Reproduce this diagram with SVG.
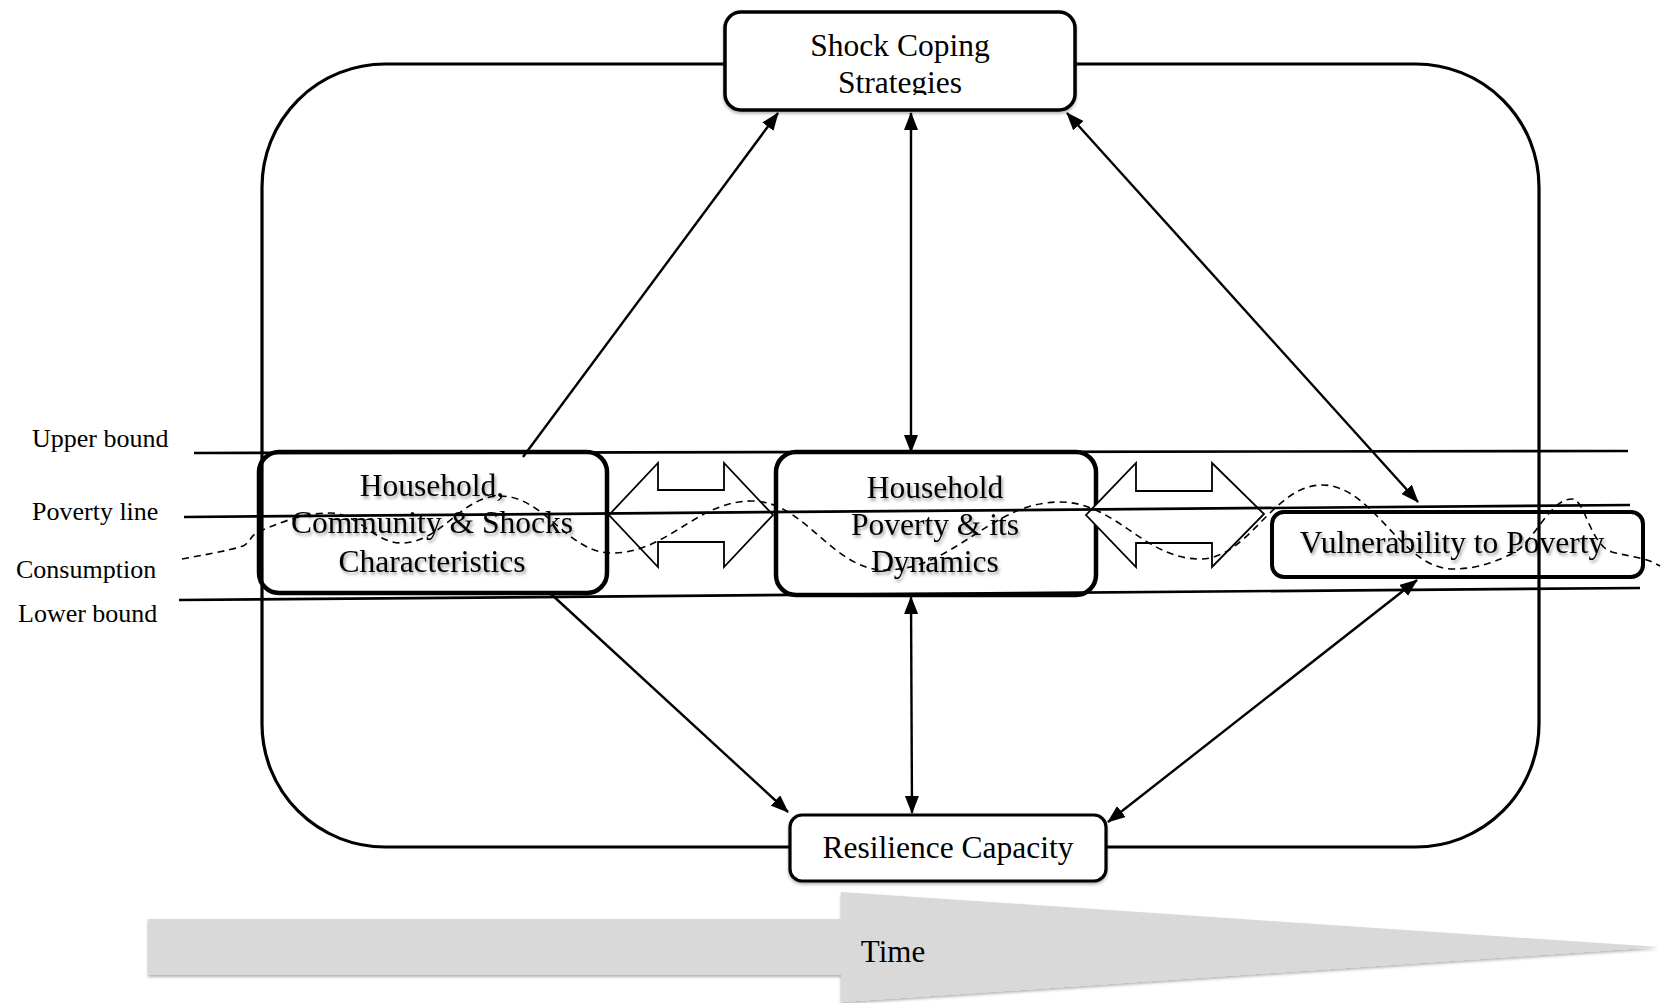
<svg xmlns="http://www.w3.org/2000/svg" width="1661" height="1003" viewBox="0 0 1661 1003">
<style>
.t{font-family:"Liberation Serif","Times New Roman",serif;font-size:31.5px;fill:#000;text-anchor:middle}
.lbl{font-family:"Liberation Serif","Times New Roman",serif;font-size:26px;fill:#000}
.box{stroke:#000;stroke-width:4.5;fill:none}
.bound{stroke:#000;stroke-width:2.7;fill:none}
.conn{stroke:#000;stroke-width:2.4;fill:none}
.dbl{fill:#fff;stroke:#000;stroke-width:1.8;stroke-linejoin:miter}
</style>
<defs>
<marker id="ah" viewBox="0 0 18 14" refX="17" refY="7" markerWidth="18" markerHeight="14" markerUnits="userSpaceOnUse" orient="auto-start-reverse">
<path d="M0,0 L18,7 L0,14 z" fill="#000"/>
</marker>
<filter id="tsh" x="-10%" y="-30%" width="120%" height="160%">
<feDropShadow dx="1.5" dy="2.5" stdDeviation="1.5" flood-color="#000" flood-opacity="0.4"/>
</filter>
<filter id="bsh" x="-5%" y="-10%" width="110%" height="125%">
<feDropShadow dx="0" dy="2" stdDeviation="1.5" flood-color="#000" flood-opacity="0.3"/>
</filter>
<clipPath id="clipShock"><rect x="725" y="12" width="350" height="83"/></clipPath>
</defs>

<g id="frame">
<rect x="262" y="64" width="1277" height="783" rx="123" ry="123" fill="none" stroke="#000" stroke-width="3.2"/>
</g>

<g id="time-arrow">
<polygon points="148,919 841,919 841,892 1659,947 841,1002 841,975 148,975" fill="#d9d9d9" filter="url(#bsh)"/>
<text x="893" y="962" class="t" style="font-size:31px">Time</text>
</g>

<g id="node-shock">
<rect x="725" y="12" width="350" height="98" rx="16" ry="16" fill="#fff" stroke="#000" stroke-width="3.5" filter="url(#bsh)"/>
<g clip-path="url(#clipShock)">
<text x="900" y="56" class="t">Shock Coping</text>
<text x="900" y="93" class="t">Strategies</text>
</g>
</g>

<g id="node-resilience">
<rect x="790" y="815" width="316" height="66" rx="12" ry="12" fill="#fff" stroke="#000" stroke-width="3.2" filter="url(#bsh)"/>
<text x="948" y="858" class="t">Resilience Capacity</text>
</g>

<g id="node-hcs">
<rect x="259" y="452" width="348" height="141" rx="20" ry="20" class="box"/>
</g>
<g id="node-poverty">
<rect x="776" y="452" width="320" height="143" rx="20" ry="20" class="box"/>
</g>
<g id="node-vulnerability">
<rect x="1272" y="512" width="371" height="65" rx="12" ry="12" class="box" style="stroke-width:4"/>
</g>

<g id="double-arrows">
<polygon class="dbl" points="609,515 658,463 658,490 724,490 724,463 773,515 724,567 724,542 658,542 658,567"/>
<polygon class="dbl" points="1086,515 1136,463 1136,491 1212,491 1212,463 1264,514 1212,567 1212,543 1136,543 1136,567"/>
</g>

<g id="bounds">
<line class="bound" x1="194" y1="453" x2="1628" y2="451"/>
<line class="bound" x1="184" y1="517" x2="1630" y2="505"/>
<line class="bound" x1="179" y1="600" x2="1640" y2="588"/>
<path d="M182,559 C215,553 235,549 243,546 C250,543 250,536 258,532 C275,525 300,513 330,513 C359,513 373,543 402,543 C441,543 461,496 500,496 C545,496 567,553 612,553 C668,553 696,501 752,501 C805,501 832,570 885,570 C955,570 990,502 1060,502 C1116,502 1144,559 1200,559 C1249,559 1273,485 1322,485 C1374,485 1401,569 1453,569 C1480,569 1500,560 1515,552 C1535,540 1550,499 1572,499 C1585,499 1590,545 1612,552 C1630,557 1645,557 1660,566" fill="none" stroke="#000" stroke-width="1.6" stroke-dasharray="7 5"/>
<text class="lbl" x="32" y="447">Upper bound</text>
<text class="lbl" x="32" y="520">Poverty line</text>
<text class="lbl" x="16" y="578">Consumption</text>
<text class="lbl" x="18" y="622">Lower bound</text>
</g>

<g id="connectors">
<line class="conn" x1="523" y1="457" x2="778" y2="113" marker-end="url(#ah)"/>
<line class="conn" x1="911" y1="113" x2="911" y2="452" marker-start="url(#ah)" marker-end="url(#ah)"/>
<line class="conn" x1="1067" y1="113" x2="1418" y2="502" marker-start="url(#ah)" marker-end="url(#ah)"/>
<line class="conn" x1="551" y1="594" x2="788" y2="812" marker-end="url(#ah)"/>
<line class="conn" x1="911" y1="597" x2="912" y2="813" marker-start="url(#ah)" marker-end="url(#ah)"/>
<line class="conn" x1="1417" y1="580" x2="1108" y2="822" marker-start="url(#ah)" marker-end="url(#ah)"/>
</g>

<g id="node-texts" filter="url(#tsh)">
<text x="432" y="496" class="t">Household,</text>
<text x="432" y="533" class="t">Community &amp; Shocks</text>
<text x="432" y="572" class="t">Characteristics</text>
<text x="935" y="498" class="t">Household</text>
<text x="935" y="535" class="t">Poverty &amp; its</text>
<text x="935" y="572" class="t">Dynamics</text>
<text x="1452" y="553" class="t">Vulnerability to Poverty</text>
</g>
</svg>
